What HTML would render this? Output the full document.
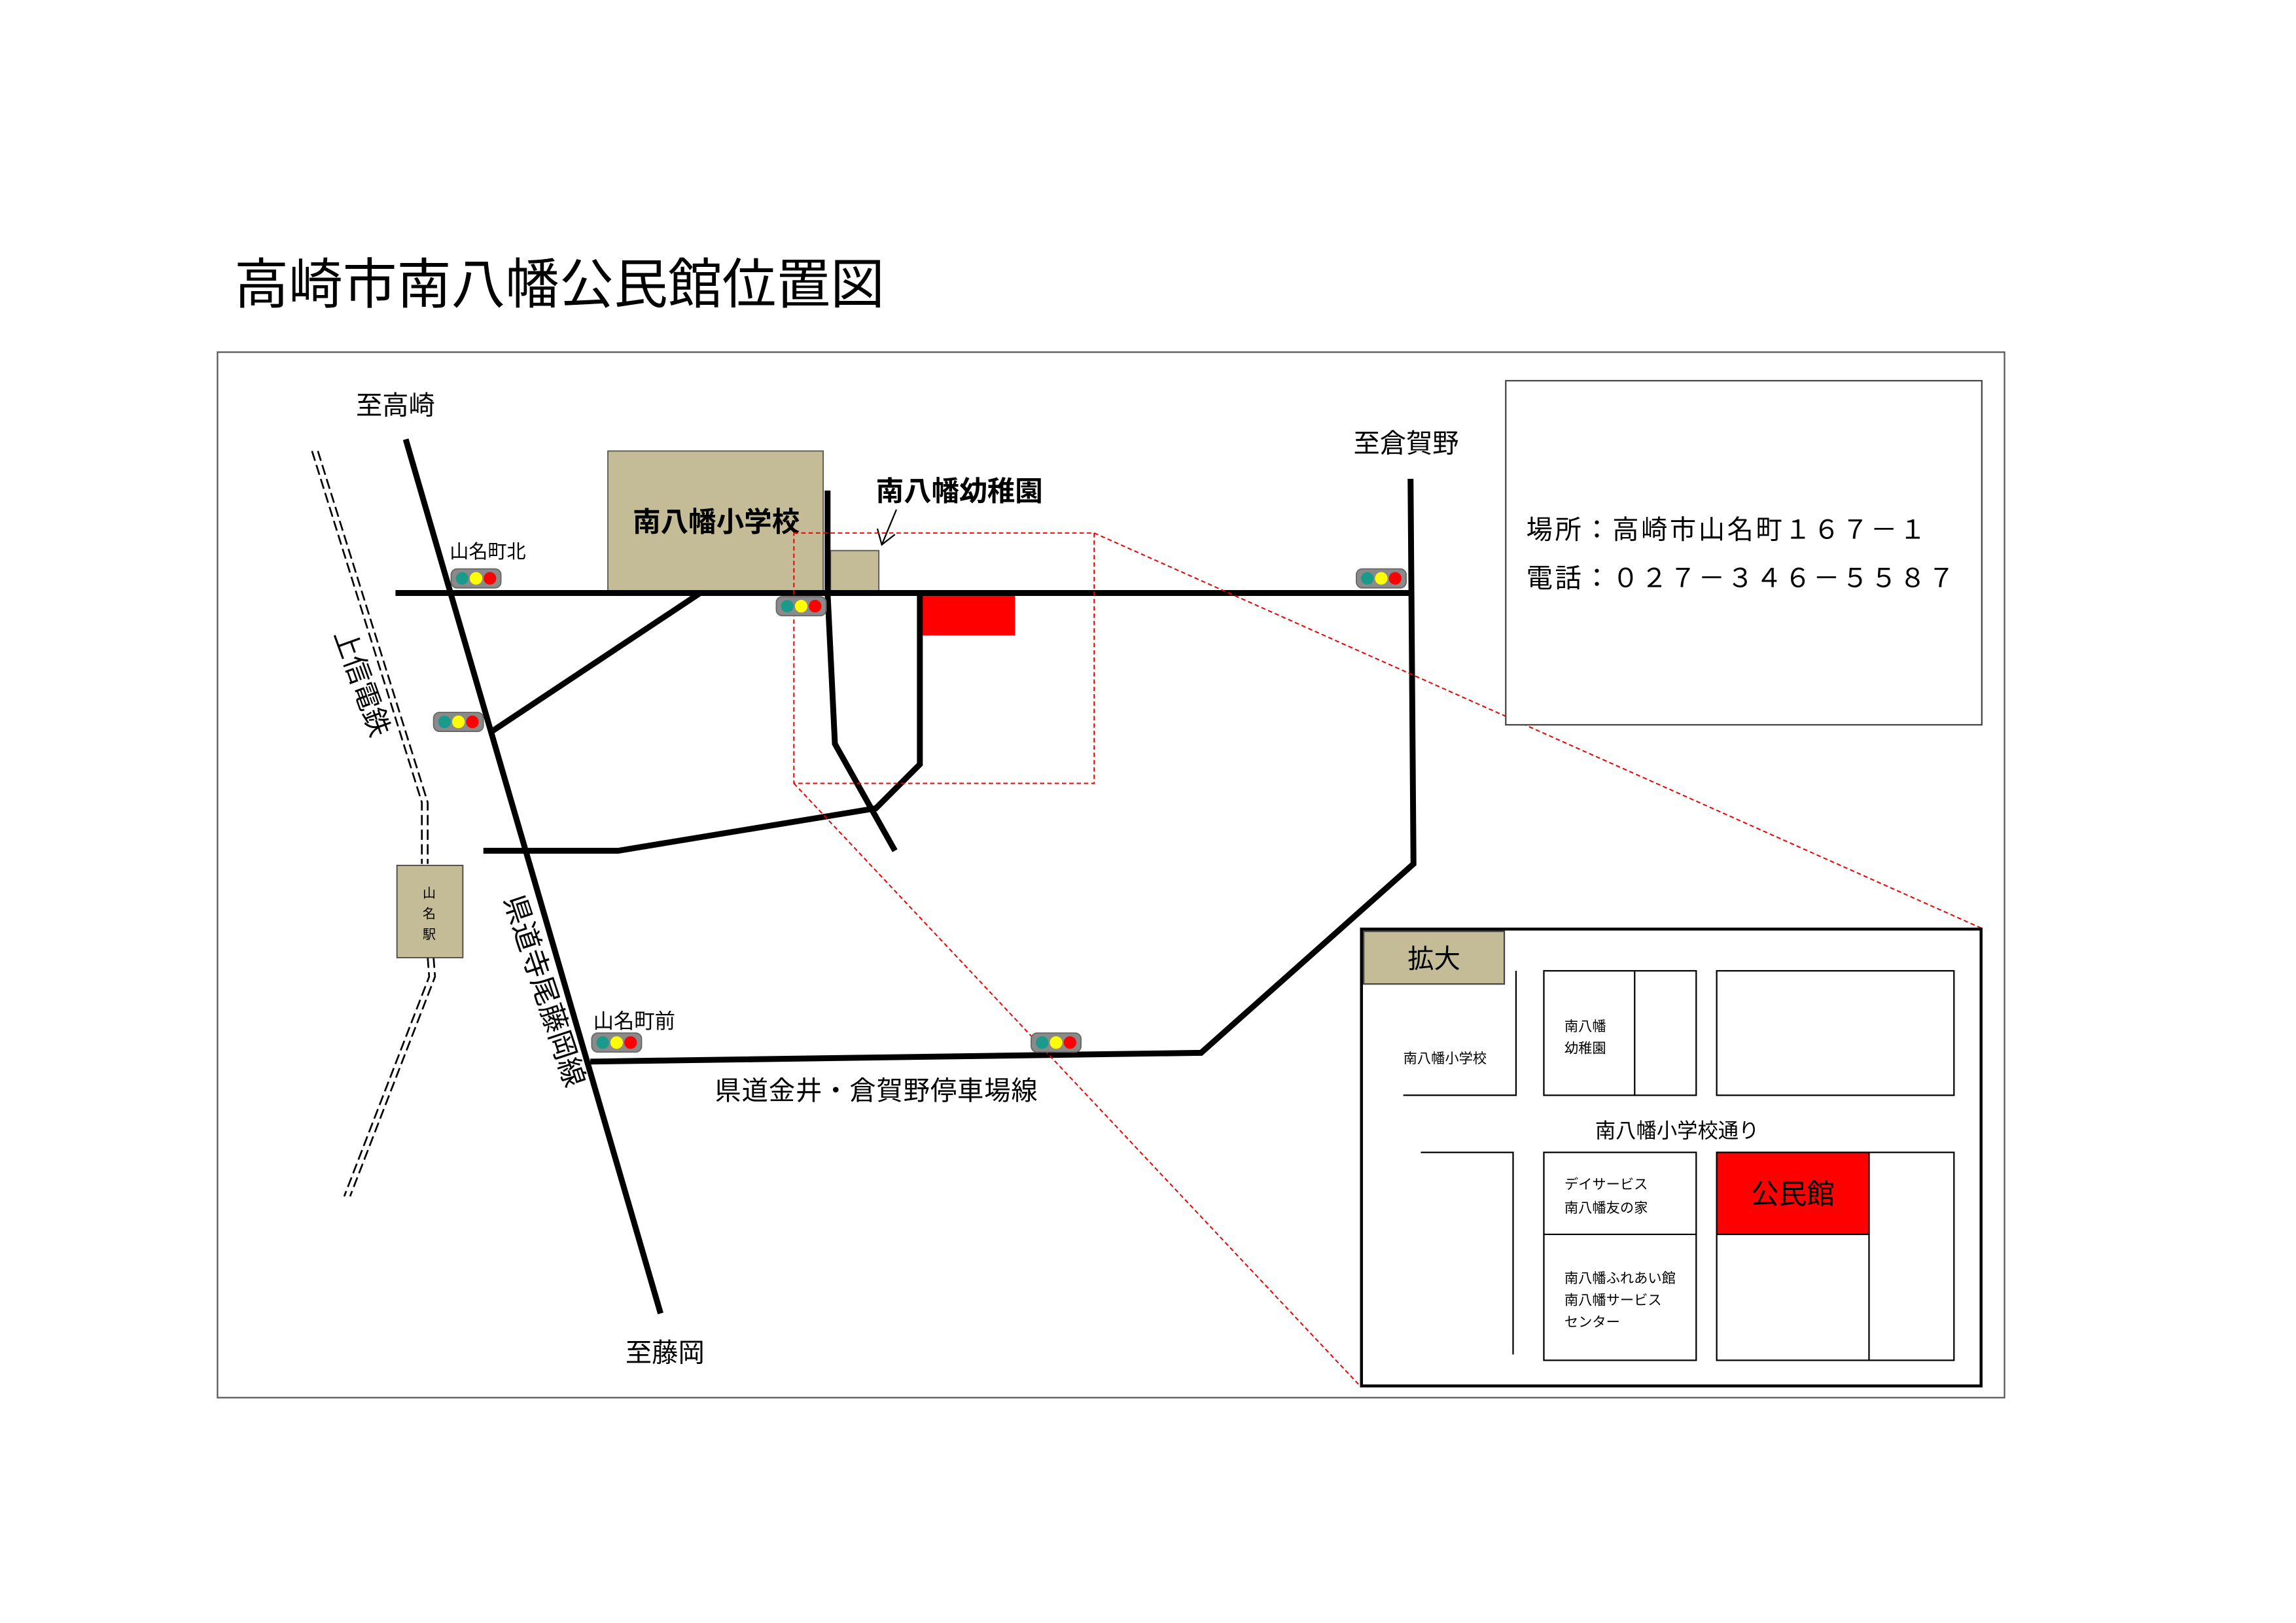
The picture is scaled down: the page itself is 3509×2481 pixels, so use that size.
<!DOCTYPE html>
<html><head><meta charset="utf-8"><style>
html,body{margin:0;padding:0;background:#fff;}
svg{display:block;}
text{font-family:"Liberation Sans","Noto Sans CJK JP",sans-serif;fill:#000;}
</style></head><body>
<svg width="3509" height="2481" viewBox="0 0 1567.5 1108.4" preserveAspectRatio="none" xmlns="http://www.w3.org/2000/svg">
<defs>
<g id="tl">
<rect x="-17" y="-6.5" width="34" height="13" rx="4" fill="#8a8a8a" stroke="#666" stroke-width="0.8"/>
<circle cx="-9.5" cy="0" r="4.3" fill="#1a9a8a"/>
<circle cx="0" cy="0" r="4.3" fill="#ffff00"/>
<circle cx="9.5" cy="0" r="4.3" fill="#ff0000"/>
</g>
</defs>
<rect width="1568" height="1110" fill="#fff"/>
<text x="160" y="207" font-size="37">高崎市南八幡公民館位置図</text>
<rect x="148.5" y="240.5" width="1220" height="714" fill="none" stroke="#555" stroke-width="1"/>

<!-- railway -->
<g fill="none" stroke="#000" stroke-width="1.2" stroke-dasharray="7,3">
<polyline points="213,308 288,548 288,590"/>
<polyline points="217,308 292,548 292,590"/>
<polyline points="292,654 293,667 235,817"/>
<polyline points="296,654 297,667 239,817"/>
</g>
<rect x="271" y="591" width="45" height="63" fill="#c4bc96" stroke="#444" stroke-width="0.8"/>
<text x="293" y="613" font-size="9" text-anchor="middle">山</text>
<text x="293" y="627" font-size="9" text-anchor="middle">名</text>
<text x="293" y="641" font-size="9" text-anchor="middle">駅</text>
<text transform="translate(228,433) rotate(70)" font-size="19">上信電鉄</text>

<!-- buildings -->
<rect x="415" y="308" width="147" height="97" fill="#c4bc96" stroke="#555" stroke-width="0.8"/>
<text x="489" y="363" font-size="19" font-weight="bold" text-anchor="middle">南八幡小学校</text>
<rect x="567" y="376" width="33" height="29" fill="#c4bc96" stroke="#555" stroke-width="0.8"/>
<text x="598" y="342" font-size="19" font-weight="bold">南八幡幼稚園</text>
<path d="M612,348 L602,372 M599,361 L602,372 L611,365" fill="none" stroke="#000" stroke-width="1"/>
<rect x="629" y="407" width="64" height="27" fill="#ff0000"/>

<!-- roads -->
<g fill="none" stroke="#000" stroke-width="4" stroke-linejoin="miter">
<line x1="277" y1="300" x2="451" y2="897"/>
<line x1="270" y1="405" x2="963" y2="405"/>
<polyline points="963,327 965,590 820,719 403,725"/>
<line x1="478" y1="405" x2="335" y2="500"/>
<polyline points="330,581 422,581 598,552 628,522 628,405"/>
<polyline points="565,335 565,405 570,508 611,581"/>
</g>

<!-- zoom indicator -->
<g fill="none" stroke="#e00" stroke-width="0.9" stroke-dasharray="3,2">
<rect x="542" y="364" width="205" height="171"/>
<line x1="747" y1="364" x2="1353" y2="634"/>
<line x1="542" y1="535" x2="929" y2="947"/>
</g>

<!-- traffic lights -->
<use href="#tl" x="325" y="395"/>
<use href="#tl" x="547" y="414"/>
<use href="#tl" x="313" y="493"/>
<use href="#tl" x="943" y="395"/>
<use href="#tl" x="421" y="712"/>
<use href="#tl" x="721" y="712"/>

<text x="243" y="283" font-size="18">至高崎</text>
<text x="307" y="381" font-size="13">山名町北</text>
<text x="405" y="702" font-size="14">山名町前</text>
<text transform="translate(344,614) rotate(71.7)" font-size="19.5">県道寺尾藤岡線</text>
<text x="488" y="751" font-size="18" letter-spacing="0.4">県道金井・倉賀野停車場線</text>
<text x="427" y="930" font-size="18">至藤岡</text>
<text x="924" y="309" font-size="18">至倉賀野</text>

<!-- info box -->
<rect x="1028" y="260" width="325" height="235" fill="#fff" stroke="#444" stroke-width="1"/>
<text x="1042" y="368" font-size="18" letter-spacing="1.6">場所：高崎市山名町１６７－１</text>
<text x="1042" y="401" font-size="18" letter-spacing="1.6">電話：０２７－３４６－５５８７</text>

<!-- inset -->
<rect x="929.5" y="634.5" width="423" height="312" fill="#fff" stroke="#000" stroke-width="2"/>
<rect x="931" y="636" width="96" height="36" fill="#c4bc96" stroke="#444" stroke-width="1"/>
<text x="979" y="661" font-size="18" text-anchor="middle">拡大</text>
<g fill="none" stroke="#000" stroke-width="1">
<polyline points="1035,663 1035,748 958,748"/>
<rect x="1054" y="663" width="104" height="85"/>
<line x1="1116" y1="663" x2="1116" y2="748"/>
<rect x="1172" y="663" width="162" height="85"/>
<polyline points="970,787 1033,787 1033,925"/>
<rect x="1054" y="787" width="104" height="142"/>
<line x1="1054" y1="843" x2="1158" y2="843"/>
<rect x="1172" y="787" width="162" height="142"/>
<line x1="1276" y1="787" x2="1276" y2="929"/>
</g>
<rect x="1172" y="787" width="104" height="56" fill="#ff0000" stroke="#000" stroke-width="1"/>
<text x="1224" y="822" font-size="19" text-anchor="middle">公民館</text>
<text x="958" y="726" font-size="9.5">南八幡小学校</text>
<text x="1068" y="704" font-size="9.5">南八幡</text>
<text x="1068" y="719" font-size="9.5">幼稚園</text>
<text x="1089" y="777" font-size="14">南八幡小学校通り</text>
<text x="1068" y="812" font-size="9.5">デイサービス</text>
<text x="1068" y="828" font-size="9.5">南八幡友の家</text>
<text x="1068" y="876" font-size="9.5">南八幡ふれあい館</text>
<text x="1068" y="891" font-size="9.5">南八幡サービス</text>
<text x="1068" y="906" font-size="9.5">センター</text>
</svg>
</body></html>
